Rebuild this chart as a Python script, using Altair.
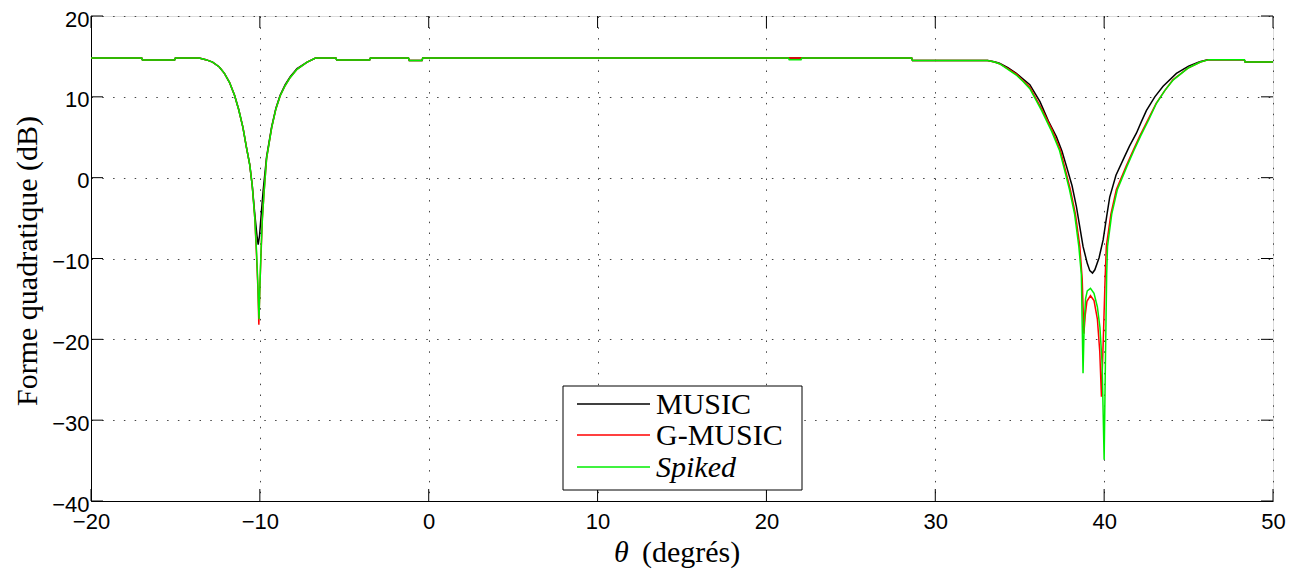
import altair as alt
import pandas as pd

# ---------------- data ----------------
series_names = ["MUSIC", "G-MUSIC", "Spiked"]
series_colors = ["#000000", "#ff0000", "#00ee00"]

theta_music = [-20, -17.0, -16.95, -15.05, -15.0, -13.6, -13.2, -12.8, -12.4, -12.1, -11.8, -11.5,
               -11.25, -11.0, -10.8, -10.6, -10.45, -10.3, -10.18, -10.1, -10.02, -9.9, -9.8, -9.6,
               -9.3, -9.05, -8.8, -8.5, -8.2, -7.8, -7.2, -6.7, -5.5, -5.45, -3.5, -3.45, -1.2, -1.15,
               -0.4, -0.35, 28.6, 28.65, 33.1, 33.5, 33.8, 34.3, 34.8, 35.2, 35.6, 36.2, 36.7, 37.17,
               37.5, 37.77, 38.1, 38.36, 38.55, 38.75, 39.0, 39.15, 39.31, 39.45, 39.7, 39.94, 40.15,
               40.33, 40.7, 41.12, 41.5, 41.91, 42.2, 42.5, 43.0, 43.49, 44.28, 45.0, 45.66, 46.13,
               48.3, 48.35, 50]
db_music = [14.8, 14.8, 14.55, 14.55, 14.8, 14.8, 14.6, 14.3, 13.7, 12.9, 11.8, 10.2,
            8.4, 6.2, 3.8, 1.6, -1.0, -4.5, -7.0, -8.3, -7.2, -4.0, -1.5, 2.6,
            6.3, 8.6, 10.2, 11.5, 12.5, 13.5, 14.3, 14.8, 14.8, 14.55, 14.55, 14.8, 14.8, 14.5,
            14.5, 14.8, 14.8, 14.5, 14.5, 14.35, 14.15, 13.6, 12.9, 12.2, 11.5, 9.4, 7.0, 5.1,
            3.3, 1.4, -1.0, -3.6, -6.0, -8.5, -10.6, -11.5, -11.8, -11.4, -9.9, -7.7, -4.8,
            -2.4, 0.3, 2.2, 3.9, 5.5, 6.9, 8.3, 10.0, 11.3, 12.9, 13.8, 14.35, 14.6,
            14.6, 14.3, 14.3]

theta_gmusic = [-20, -17.0, -16.95, -15.05, -15.0, -13.6, -13.2, -12.8, -12.4, -12.1, -11.8, -11.5,
                -11.25, -11.0, -10.8, -10.6, -10.45, -10.3, -10.2, -10.12, -10.06, -10.0, -9.93,
                -9.85, -9.75, -9.6, -9.3, -9.05, -8.8, -8.5, -8.2, -7.8, -7.2, -6.7, -5.5, -5.45,
                -3.5, -3.45, -1.2, -1.15, -0.4, -0.35, 28.6, 28.65, 33.1, 33.5, 33.8, 34.3, 34.8,
                35.2, 35.6, 36.3, 36.9, 37.41, 37.7, 38.0, 38.3, 38.56, 38.7, 38.8, 38.88, 38.98,
                39.19, 39.4, 39.6, 39.74, 39.84, 39.95, 40.05, 40.13, 40.4, 40.72, 41.3, 41.7,
                42.1, 42.6, 43.08, 43.6, 44.07, 45.0, 45.7, 46.2, 48.3, 48.35, 50]
db_gmusic = [14.8, 14.8, 14.55, 14.55, 14.8, 14.8, 14.6, 14.3, 13.7, 12.9, 11.8, 10.2,
             8.4, 6.2, 3.8, 1.6, -1.0, -5.0, -9.5, -13.5, -18.2, -13.5, -9.5,
             -5.0, -1.8, 2.4, 6.2, 8.5, 10.1, 11.4, 12.4, 13.4, 14.3, 14.8, 14.8, 14.55,
             14.55, 14.8, 14.8, 14.5, 14.5, 14.8, 14.8, 14.5, 14.5, 14.3, 14.1, 13.5, 12.8,
             12.0, 11.2, 8.5, 6.0, 3.4, 1.0, -1.5, -4.5, -8.5, -12.5, -19.3, -17.0, -15.3,
             -14.6, -15.2, -17.5, -21.5, -27.1, -20.0, -13.0, -8.5, -4.5, -1.5, 1.4, 3.3,
             5.1, 7.2, 9.2, 10.8, 12.1, 13.6, 14.3, 14.6, 14.6, 14.3, 14.3]

theta_spiked = [-20, -17.0, -16.95, -15.05, -15.0, -13.6, -13.2, -12.8, -12.4, -12.1, -11.8, -11.5,
                -11.25, -11.0, -10.8, -10.6, -10.45, -10.3, -10.2, -10.12, -10.05, -9.99, -9.93,
                -9.85, -9.75, -9.6, -9.3, -9.05, -8.8, -8.5, -8.2, -7.8, -7.2, -6.7, -5.5, -5.45,
                -3.5, -3.45, -1.2, -1.15, -0.4, -0.35, 21.3, 21.35, 22.05, 22.1, 28.6, 28.65,
                33.1, 33.5, 33.8, 34.3, 34.8, 35.2, 35.6, 36.3, 36.9, 37.35, 37.65, 37.95, 38.25,
                38.5, 38.65, 38.75, 38.82, 38.9, 39.0, 39.19, 39.4, 39.6, 39.75, 39.88, 40.0,
                40.08, 40.15, 40.2, 40.45, 40.78, 41.35, 41.75, 42.15, 42.65, 43.1, 43.6, 44.1,
                45.0, 45.7, 46.2, 48.3, 48.35, 50]
db_spiked = [14.8, 14.8, 14.55, 14.55, 14.8, 14.8, 14.6, 14.3, 13.7, 12.9, 11.8, 10.2,
             8.4, 6.2, 3.8, 1.6, -1.0, -5.0, -9.0, -13.0, -17.5, -13.0, -9.0,
             -5.0, -1.8, 2.4, 6.2, 8.5, 10.1, 11.4, 12.4, 13.4, 14.3, 14.8, 14.8, 14.55,
             14.55, 14.8, 14.8, 14.5, 14.5, 14.8, 14.8, 14.6, 14.6, 14.8, 14.8, 14.5,
             14.5, 14.3, 14.1, 13.4, 12.7, 11.9, 11.0, 8.3, 5.7, 3.4, 1.0, -1.5, -4.5,
             -8.5, -12.0, -24.2, -18.0, -15.0, -14.0, -13.7, -14.3, -16.0, -18.5, -23.0, -34.9,
             -22.0, -12.0, -8.5, -4.5, -1.5, 1.4, 3.3, 5.1, 7.2, 9.2, 10.8, 12.1,
             13.6, 14.3, 14.6, 14.6, 14.3, 14.3]

x_ticks = [-20, -10, 0, 10, 20, 30, 40, 50]
y_ticks = [-40, -30, -20, -10, 0, 10, 20]
x_title_symbol = "θ"
x_title_rest = "(degrés)"
y_title = "Forme quadratique (dB)"

# ---------------- layout ----------------
W, H = 1182, 485
SANS = "Liberation Sans"
SERIF = "Liberation Serif"
GRID_DASH = [1.5, 9.3]

def make_df(th, db):
    return pd.DataFrame({"theta": th, "db": db, "idx": list(range(len(th)))})

x_scale = alt.Scale(domain=[x_ticks[0], x_ticks[-1]], nice=False, zero=False)
y_scale = alt.Scale(domain=[y_ticks[0], y_ticks[-1]], nice=False, zero=False)

x_enc = alt.X("theta:Q", scale=x_scale,
              axis=alt.Axis(values=x_ticks, format="d", title=None, ticks=False,
                            labelFont=SANS, labelFontSize=22, labelColor="black",
                            labelPadding=10, domainColor="black", domainWidth=1,
                            grid=True, gridColor="#444", gridDash=GRID_DASH, gridWidth=1,
                            labelFlush=False))
y_enc = alt.Y("db:Q", scale=y_scale,
              axis=alt.Axis(values=y_ticks, format="d", title=y_title, ticks=False,
                            labelFont=SANS, labelFontSize=22, labelColor="black",
                            labelPadding=2, labelOffset=3, domainColor="black", domainWidth=1,
                            grid=True, gridColor="#444", gridDash=GRID_DASH, gridWidth=1,
                            labelFlush=False,
                            titleFont=SERIF, titleFontSize=30, titleFontWeight="normal",
                            titleColor="black", titleAngle=270, titleX=-64, titleY=H / 2 + 2,
                            titleAlign="center", titleBaseline="middle"))

layers = []
for name, th, db, col in zip(series_names,
                             [theta_music, theta_gmusic, theta_spiked],
                             [db_music, db_gmusic, db_spiked],
                             series_colors):
    layers.append(
        alt.Chart(make_df(th, db)).mark_line(color=col, strokeWidth=1.5, clip=True)
        .encode(x=x_enc, y=y_enc, order="idx:Q")
    )

# inward ticks (MATLAB style)
TL = 12
xt = pd.DataFrame({"theta": x_ticks})
yt = pd.DataFrame({"db": y_ticks})
tick_style = dict(color="black", strokeWidth=1)
layers.append(alt.Chart(xt).mark_rule(**tick_style).encode(x=x_enc, y=alt.value(H - TL), y2=alt.value(H)))
layers.append(alt.Chart(xt).mark_rule(**tick_style).encode(x=x_enc, y=alt.value(0), y2=alt.value(TL)))
layers.append(alt.Chart(yt).mark_rule(**tick_style).encode(y=y_enc, x=alt.value(0), x2=alt.value(TL)))
layers.append(alt.Chart(yt).mark_rule(**tick_style).encode(y=y_enc, x=alt.value(W - TL), x2=alt.value(W)))

# legend box
one = pd.DataFrame({"k": [0]})
LX0, LX1, LY0, LY1 = 472, 711, 370, 474
layers.append(alt.Chart(one).mark_rect(fill="white", stroke="black", strokeWidth=1)
              .encode(x=alt.value(LX0), x2=alt.value(LX1), y=alt.value(LY0), y2=alt.value(LY1)))
row_y = [388, 419, 451]
for name, col, ry in zip(series_names, series_colors, row_y):
    layers.append(alt.Chart(one).mark_rule(color=col, strokeWidth=1.5)
                  .encode(x=alt.value(486), x2=alt.value(559), y=alt.value(ry)))
    style = "italic" if name == "Spiked" else "normal"
    layers.append(alt.Chart(pd.DataFrame({"label": [name]}))
                  .mark_text(align="left", baseline="middle", font=SERIF, fontSize=30,
                             fontStyle=style, color="black")
                  .encode(x=alt.value(565), y=alt.value(ry + 1), text="label:N"))

# x axis title (theta italic)
layers.append(alt.Chart(pd.DataFrame({"label": [x_title_symbol]}))
              .mark_text(align="left", baseline="alphabetic", font=SERIF, fontSize=30,
                         fontStyle="italic", color="black")
              .encode(x=alt.value(523), y=alt.value(546), text="label:N"))
layers.append(alt.Chart(pd.DataFrame({"label": [x_title_rest]}))
              .mark_text(align="left", baseline="alphabetic", font=SERIF, fontSize=30,
                         color="black")
              .encode(x=alt.value(551), y=alt.value(546), text="label:N"))

chart = (
    alt.layer(*layers)
    .properties(width=W, height=H,
                autosize=alt.AutoSizeParams(type="none"),
                padding={"left": 83, "top": 8, "right": 20, "bottom": 68})
    .configure_view(stroke="black", strokeWidth=1)
    .configure(background="white")
)

chart.save("out.html", embed_options={"renderer": "svg", "actions": False})
